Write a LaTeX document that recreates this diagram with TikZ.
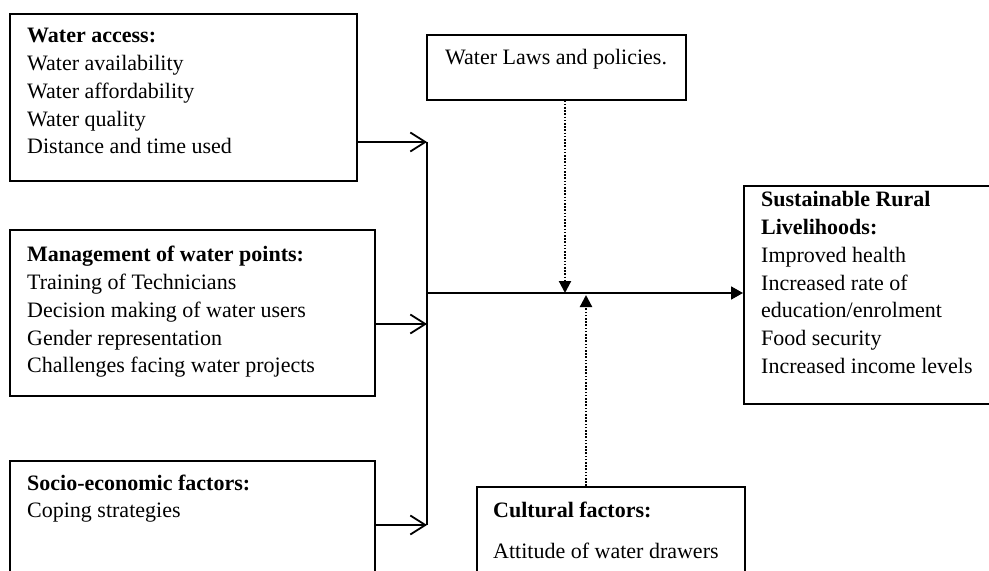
\documentclass[tikz,border=0pt]{standalone}
\usepackage{fontspec}
\setmainfont{Liberation Serif}
\usetikzlibrary{arrows.meta}
\tikzset{
  box/.style={draw, line width=1.6bp, rectangle, inner sep=0pt, anchor=north west},
  txt/.style={anchor=base west, inner sep=0pt, font=\fontsize{22bp}{27.7bp}\selectfont},
  conn/.style={line width=1.8bp},
  openarr/.style={conn, -{Straight Barb[length=15bp,width=19bp,line width=1.8bp]}},
  fillarr/.style={conn, -{Triangle[length=12bp,width=13bp]}},
  dotarr/.style={line width=2.2bp, dash pattern=on 1.6bp off 1.6bp, -{Triangle[length=12bp,width=12bp]}}
}
\begin{document}
\begin{tikzpicture}[x=1bp,y=-1bp]
\useasboundingbox (0,0) rectangle (989,571);
\clip (0,0) rectangle (989,571);
\fill[white] (0,0) rectangle (989,571);
% boxes
\node[box, minimum width=347bp, minimum height=167bp] (wa) at (9,13) {};
\node[box, minimum width=365bp, minimum height=166bp] (mg) at (9,229) {};
\node[box, minimum width=365bp, minimum height=140bp] (se) at (9,460) {};
\node[box, minimum width=259bp, minimum height=65bp] (laws) at (426,34) {};
\node[box, minimum width=268bp, minimum height=114bp] (cult) at (476,486) {};
\node[box, minimum width=252bp, minimum height=218bp] (sus) at (743,185) {};
% texts
\node[txt] (watxt) at (27,43) {\begin{tabular}[t]{@{}l@{}}\textbf{Water access:}\\Water availability\\Water affordability\\Water quality\\Distance and time used\end{tabular}};
\node[txt] (mgtxt) at (27,262) {\begin{tabular}[t]{@{}l@{}}\textbf{Management of water points:}\\Training of Technicians\\Decision making of water users\\Gender representation\\Challenges facing water projects\end{tabular}};
\node[txt] (setxt) at (27,490) {\begin{tabular}[t]{@{}l@{}}\textbf{Socio-economic factors:}\\Coping strategies\end{tabular}};
\node[txt] (lawstxt) at (445,65) {Water Laws and policies.};
\node[txt] (culttxt) at (493,517) {\textbf{Cultural factors:}};
\node[txt] (cultline) at (493,558) {Attitude of water drawers};
\node[txt] (sustxt) at (761,207) {\begin{tabular}[t]{@{}l@{}}\textbf{Sustainable Rural}\\\textbf{Livelihoods:}\\Improved health\\Increased rate of\\education/enrolment\\Food security\\Increased income levels\end{tabular}};
% junction coordinates
\coordinate (j1) at (427,142);
\coordinate (j2) at (427,324);
\coordinate (j3) at (427,525);
\coordinate (hub) at (427,293);
\coordinate (d1) at (565,293);
\coordinate (d2) at (586,295);
% connectors
\draw[openarr] (wa.east |- j1) -- (j1);
\draw[openarr] (mg.east |- j2) -- (j2);
\draw[openarr] (se.east |- j3) -- (j3);
\draw[conn] (j1) -- (j3);
\draw[fillarr] (hub) -- (sus.west |- hub);
\draw[dotarr] (laws.south -| d1) -- (d1);
\draw[dotarr] (cult.north -| d2) -- (d2);
\end{tikzpicture}
\end{document}
